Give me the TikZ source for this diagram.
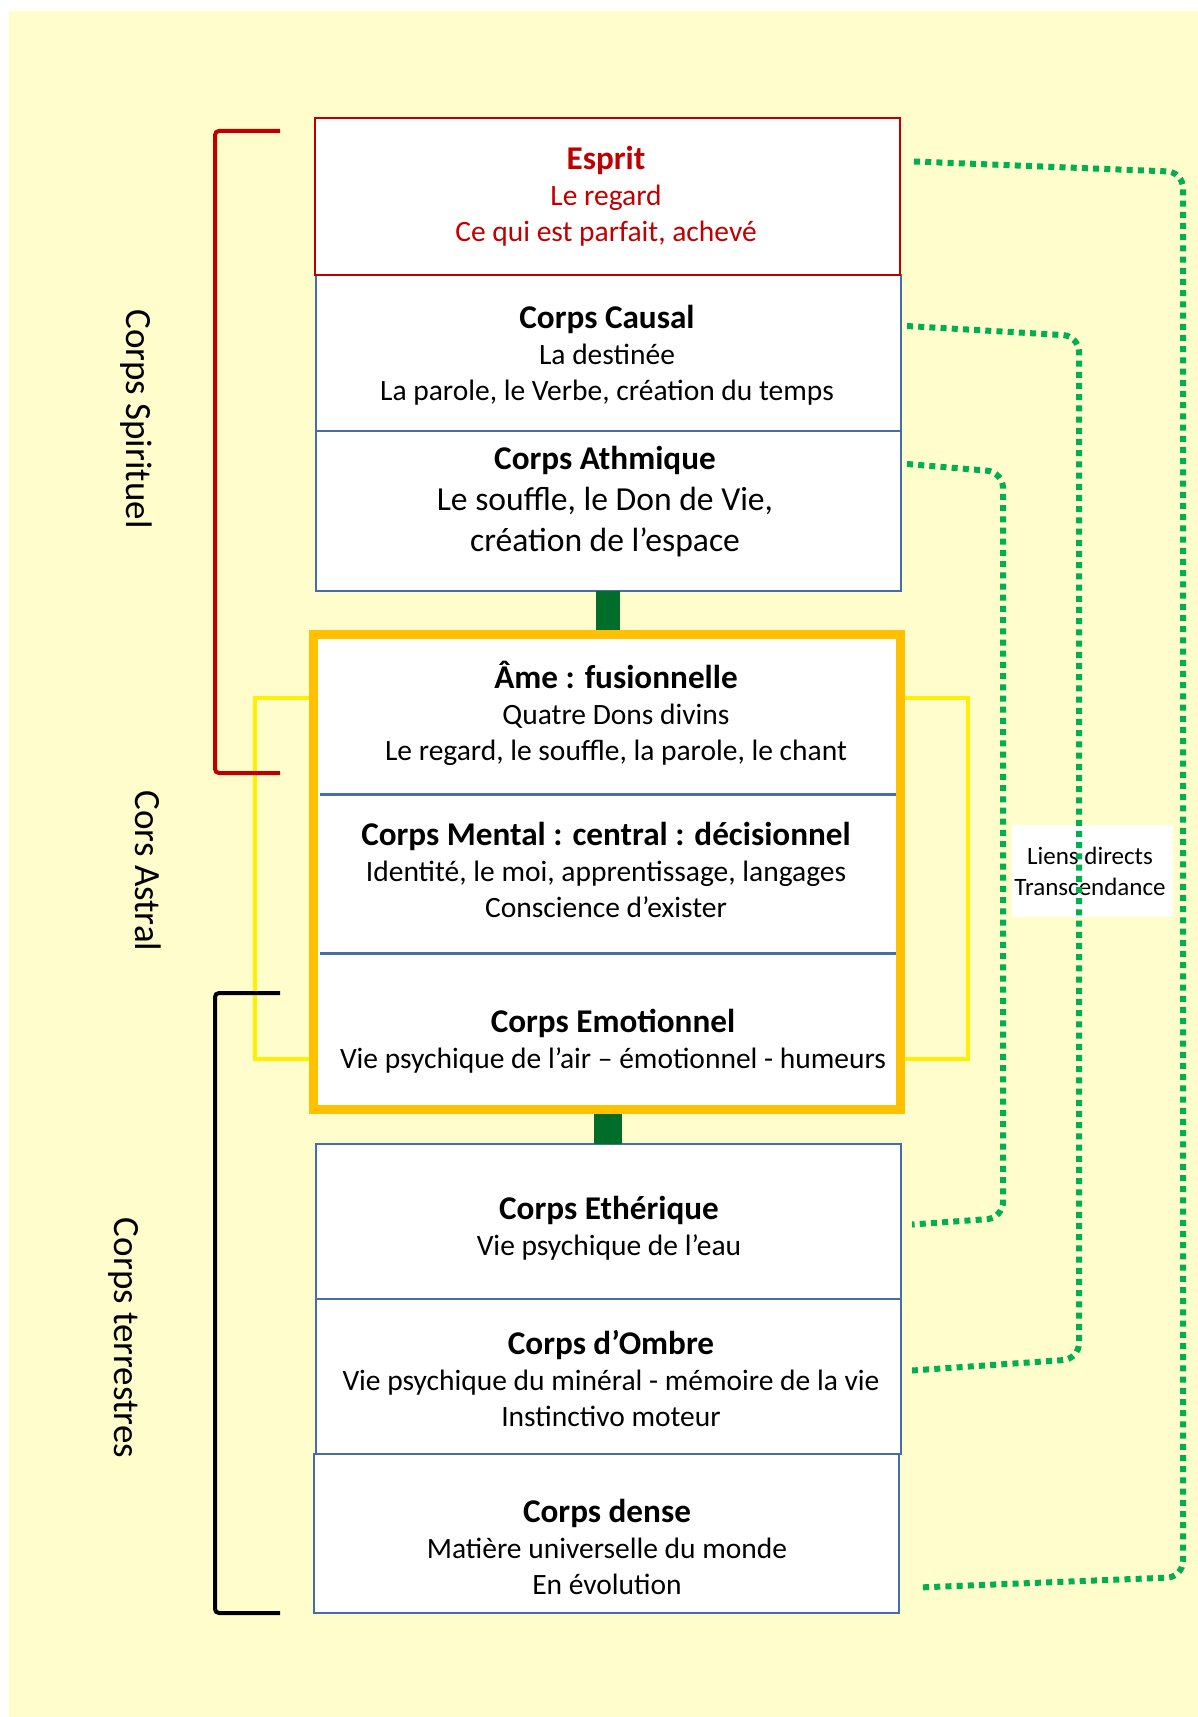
\documentclass[tikz,border=0pt]{standalone}
\usepackage{fontspec}
\setmainfont{Carlito}
\usetikzlibrary{calc}
\definecolor{bg}{RGB}{255,253,204}
\definecolor{espred}{RGB}{192,0,0}
\definecolor{boxblue}{RGB}{70,110,165}
\definecolor{orangeframe}{RGB}{255,192,0}
\definecolor{barGreen}{RGB}{0,110,40}
\definecolor{dotGreen}{RGB}{0,176,80}
\definecolor{brYellow}{RGB}{255,240,0}
\newcommand{\ttl}[1]{{\fontsize{16.6}{19}\selectfont\bfseries #1}}
\tikzset{
  box/.style={draw=boxblue, line width=1pt, fill=white, inner sep=0pt, outer sep=0pt, minimum width=292.5pt},
  section/.style={inner sep=0pt, outer sep=0pt, minimum width=288pt},
  txt/.style={align=center, inner sep=0pt, font=\fontsize{14.75}{18}\selectfont},
  bigtxt/.style={align=center, inner sep=0pt, font=\fontsize{16.8}{20.5}\selectfont},
  vlabel/.style={rotate=-90, inner sep=0pt, font=\fontsize{18.5}{20}\selectfont},
  bracketline/.style={line width=2pt, rounded corners=2pt},
  ybracket/.style={draw=brYellow, line width=1.7pt},
  gdot/.style={draw=dotGreen, line width=3pt, dash pattern=on 3pt off 2.6pt, rounded corners=8pt},
}
\begin{document}
\begin{tikzpicture}[x=0.5pt, y=-0.5pt]
\useasboundingbox (0,0) rectangle (1198,1717);
\fill[white] (0,0) rectangle (1198,1717);
\fill[bg] (9,11) rectangle (1198,1717);

% brackets on the left (yellow first)
\coordinate (yl1) at (309,698);
\coordinate (yl2) at (255,698);
\coordinate (yl3) at (255,1059);
\coordinate (yl4) at (309,1059);
\draw[ybracket] (yl1) -- (yl2) -- (yl3) -- (yl4);
\coordinate (yr1) at (905,698);
\coordinate (yr2) at (968,698);
\coordinate (yr3) at (968,1059);
\coordinate (yr4) at (905,1059);
\draw[ybracket] (yr1) -- (yr2) -- (yr3) -- (yr4);

\coordinate (rb1) at (280,131);
\coordinate (rb2) at (215,131);
\coordinate (rb3) at (215,773);
\coordinate (rb4) at (280,773);
\draw[bracketline, espred] (rb1) -- (rb2) -- (rb3) -- (rb4);
\coordinate (kb1) at (280,993);
\coordinate (kb2) at (215,993);
\coordinate (kb3) at (215,1613);
\coordinate (kb4) at (280,1613);
\draw[bracketline, black] (kb1) -- (kb2) -- (kb3) -- (kb4);

\node[vlabel] (lspirit) at (136,419) {Corps Spirituel};
\node[vlabel] (lastral) at (148,871) {Cors Astral};
\node[vlabel] (lterre) at (124,1338) {Corps terrestres};

% upper boxes
\node[box, minimum height=78pt] (causal) at (608.5,353) {};
\node[box, draw=espred, minimum height=78.5pt] (esprit) at (607.5,196.5) {};
\node[box, minimum height=80pt] (athm) at (608.5,511) {};

% lower boxes
\node[box, minimum height=77.5pt] (ether) at (608.5,1221.5) {};
\node[box, minimum height=77.5pt] (ombre) at (608.5,1376.5) {};
\node[box, minimum height=79.5pt] (dense) at (606.5,1533.5) {};

% astral block
\node[section, minimum height=80pt] (ame) at (608,714) {};
\node[section, minimum height=79.5pt] (mental) at (608,873.5) {};
\node[section, minimum height=78pt] (emo) at (608,1031.5) {};
\node[draw=orangeframe, line width=4.5pt, fill=white, inner sep=0pt, outer sep=0pt,
      minimum width=293.5pt, minimum height=237.5pt] (astral) at (607,872) {};
\draw[boxblue, line width=1.5pt] (ame.south west) -- (ame.south east);
\draw[boxblue, line width=1.5pt] (mental.south west) -- (mental.south east);

% green bars
\fill[barGreen] ($(athm.south)+(-13,0)$) rectangle ($(astral.north)+(13,0)$);
\fill[barGreen] ($(astral.south)+(-13,0)$) rectangle ($(ether.north)+(13,0)$);
\draw[draw=orangeframe, line width=4.5pt] (astral.north west) rectangle (astral.south east);

% texts
\node[txt, text=espred] (tesprit) at (606,196) {\ttl{Esprit}\\Le regard\\Ce qui est parfait, achevé};
\node[txt] (tcausal) at (607,355) {\ttl{Corps Causal}\\La destinée\\La parole, le Verbe, création du temps};
\node[bigtxt] (tathm) at (605,502) {\ttl{Corps Athmique}\\Le souffle, le Don de Vie,\\création de l’espace};
\node[txt] (tame) at (616,713) {\ttl{Âme : fusionnelle}\\Quatre Dons divins\\Le regard, le souffle, la parole, le chant};
\node[txt] (tmental) at (606,870) {\ttl{Corps Mental : central : décisionnel}\\Identité, le moi, apprentissage, langages\\Conscience d’exister};
\node[txt] (temo) at (613,1041) {\ttl{Corps Emotionnel}\\Vie psychique de l’air – émotionnel - humeurs};
\node[txt] (tether) at (609,1228) {\ttl{Corps Ethérique}\\Vie psychique de l’eau};
\node[txt] (tombre) at (611,1379) {\ttl{Corps d’Ombre}\\Vie psychique du minéral - mémoire de la vie\\Instinctivo moteur};
\node[txt] (tdense) at (607,1547) {\ttl{Corps dense}\\Matière universelle du monde\\En évolution};

% label for the links
\node[fill=white, inner sep=0pt, minimum width=80.5pt, minimum height=46pt] (liens) at (1092.5,871) {};
\node[align=center, inner sep=0pt, font=\fontsize{12.5}{15.5}\selectfont] (tliens) at (1090,871) {Liens directs\\Transcendance};

% green dotted links
\draw[gdot] ($(esprit.east)+(14,-35)$) -- (1183,172) -- (1183,1577) -- ($(dense.east)+(19,54)$);
\draw[gdot] ($(causal.east)+(6,-27)$) -- (1079,336) -- (1079,1359) -- ($(ombre.east)+(11,-6)$);
\draw[gdot] ($(athm.east)+(6,-47)$) -- (1003,472) -- (1003,1218) -- ($(ether.east)+(11,3)$);
\end{tikzpicture}
\end{document}
